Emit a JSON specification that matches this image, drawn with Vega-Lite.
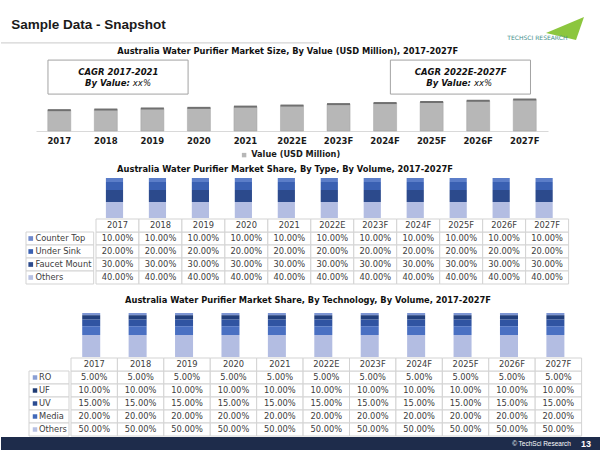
{
  "$schema": "https://vega.github.io/schema/vega-lite/v6.json",
  "padding": 0,
  "background": "white",
  "spacing": 0,
  "bounds": "full",
  "resolve": {"scale": {"x": "independent", "y": "independent", "color": "independent"}},
  "config": {
    "view": {"stroke": null},
    "font": "DejaVu Sans",
    "text": {"font": "DejaVu Sans"},
    "legend": {"padding": 0}
  },
  "datasets": {
    "value": [
      {"year": "2017", "value": 100}, {"year": "2018", "value": 103}, {"year": "2019", "value": 108},
      {"year": "2020", "value": 111}, {"year": "2021", "value": 117}, {"year": "2022E", "value": 122},
      {"year": "2023F", "value": 129}, {"year": "2024F", "value": 134}, {"year": "2025F", "value": 139},
      {"year": "2026F", "value": 145}, {"year": "2027F", "value": 151}
    ],
    "type": [
      {"year": "2017", "series": "Counter Top", "share": 0.1}, {"year": "2017", "series": "Under Sink", "share": 0.2}, {"year": "2017", "series": "Faucet Mount", "share": 0.3}, {"year": "2017", "series": "Others", "share": 0.4},
      {"year": "2018", "series": "Counter Top", "share": 0.1}, {"year": "2018", "series": "Under Sink", "share": 0.2}, {"year": "2018", "series": "Faucet Mount", "share": 0.3}, {"year": "2018", "series": "Others", "share": 0.4},
      {"year": "2019", "series": "Counter Top", "share": 0.1}, {"year": "2019", "series": "Under Sink", "share": 0.2}, {"year": "2019", "series": "Faucet Mount", "share": 0.3}, {"year": "2019", "series": "Others", "share": 0.4},
      {"year": "2020", "series": "Counter Top", "share": 0.1}, {"year": "2020", "series": "Under Sink", "share": 0.2}, {"year": "2020", "series": "Faucet Mount", "share": 0.3}, {"year": "2020", "series": "Others", "share": 0.4},
      {"year": "2021", "series": "Counter Top", "share": 0.1}, {"year": "2021", "series": "Under Sink", "share": 0.2}, {"year": "2021", "series": "Faucet Mount", "share": 0.3}, {"year": "2021", "series": "Others", "share": 0.4},
      {"year": "2022E", "series": "Counter Top", "share": 0.1}, {"year": "2022E", "series": "Under Sink", "share": 0.2}, {"year": "2022E", "series": "Faucet Mount", "share": 0.3}, {"year": "2022E", "series": "Others", "share": 0.4},
      {"year": "2023F", "series": "Counter Top", "share": 0.1}, {"year": "2023F", "series": "Under Sink", "share": 0.2}, {"year": "2023F", "series": "Faucet Mount", "share": 0.3}, {"year": "2023F", "series": "Others", "share": 0.4},
      {"year": "2024F", "series": "Counter Top", "share": 0.1}, {"year": "2024F", "series": "Under Sink", "share": 0.2}, {"year": "2024F", "series": "Faucet Mount", "share": 0.3}, {"year": "2024F", "series": "Others", "share": 0.4},
      {"year": "2025F", "series": "Counter Top", "share": 0.1}, {"year": "2025F", "series": "Under Sink", "share": 0.2}, {"year": "2025F", "series": "Faucet Mount", "share": 0.3}, {"year": "2025F", "series": "Others", "share": 0.4},
      {"year": "2026F", "series": "Counter Top", "share": 0.1}, {"year": "2026F", "series": "Under Sink", "share": 0.2}, {"year": "2026F", "series": "Faucet Mount", "share": 0.3}, {"year": "2026F", "series": "Others", "share": 0.4},
      {"year": "2027F", "series": "Counter Top", "share": 0.1}, {"year": "2027F", "series": "Under Sink", "share": 0.2}, {"year": "2027F", "series": "Faucet Mount", "share": 0.3}, {"year": "2027F", "series": "Others", "share": 0.4}
    ],
    "tech": [
      {"year": "2017", "series": "RO", "share": 0.05}, {"year": "2017", "series": "UF", "share": 0.1}, {"year": "2017", "series": "UV", "share": 0.15}, {"year": "2017", "series": "Media", "share": 0.2}, {"year": "2017", "series": "Others", "share": 0.5},
      {"year": "2018", "series": "RO", "share": 0.05}, {"year": "2018", "series": "UF", "share": 0.1}, {"year": "2018", "series": "UV", "share": 0.15}, {"year": "2018", "series": "Media", "share": 0.2}, {"year": "2018", "series": "Others", "share": 0.5},
      {"year": "2019", "series": "RO", "share": 0.05}, {"year": "2019", "series": "UF", "share": 0.1}, {"year": "2019", "series": "UV", "share": 0.15}, {"year": "2019", "series": "Media", "share": 0.2}, {"year": "2019", "series": "Others", "share": 0.5},
      {"year": "2020", "series": "RO", "share": 0.05}, {"year": "2020", "series": "UF", "share": 0.1}, {"year": "2020", "series": "UV", "share": 0.15}, {"year": "2020", "series": "Media", "share": 0.2}, {"year": "2020", "series": "Others", "share": 0.5},
      {"year": "2021", "series": "RO", "share": 0.05}, {"year": "2021", "series": "UF", "share": 0.1}, {"year": "2021", "series": "UV", "share": 0.15}, {"year": "2021", "series": "Media", "share": 0.2}, {"year": "2021", "series": "Others", "share": 0.5},
      {"year": "2022E", "series": "RO", "share": 0.05}, {"year": "2022E", "series": "UF", "share": 0.1}, {"year": "2022E", "series": "UV", "share": 0.15}, {"year": "2022E", "series": "Media", "share": 0.2}, {"year": "2022E", "series": "Others", "share": 0.5},
      {"year": "2023F", "series": "RO", "share": 0.05}, {"year": "2023F", "series": "UF", "share": 0.1}, {"year": "2023F", "series": "UV", "share": 0.15}, {"year": "2023F", "series": "Media", "share": 0.2}, {"year": "2023F", "series": "Others", "share": 0.5},
      {"year": "2024F", "series": "RO", "share": 0.05}, {"year": "2024F", "series": "UF", "share": 0.1}, {"year": "2024F", "series": "UV", "share": 0.15}, {"year": "2024F", "series": "Media", "share": 0.2}, {"year": "2024F", "series": "Others", "share": 0.5},
      {"year": "2025F", "series": "RO", "share": 0.05}, {"year": "2025F", "series": "UF", "share": 0.1}, {"year": "2025F", "series": "UV", "share": 0.15}, {"year": "2025F", "series": "Media", "share": 0.2}, {"year": "2025F", "series": "Others", "share": 0.5},
      {"year": "2026F", "series": "RO", "share": 0.05}, {"year": "2026F", "series": "UF", "share": 0.1}, {"year": "2026F", "series": "UV", "share": 0.15}, {"year": "2026F", "series": "Media", "share": 0.2}, {"year": "2026F", "series": "Others", "share": 0.5},
      {"year": "2027F", "series": "RO", "share": 0.05}, {"year": "2027F", "series": "UF", "share": 0.1}, {"year": "2027F", "series": "UV", "share": 0.15}, {"year": "2027F", "series": "Media", "share": 0.2}, {"year": "2027F", "series": "Others", "share": 0.5}
    ]
  },
  "vconcat": [
    {
      "width": 600, "height": 58,
      "data": {"values": [{}]},
      "layer": [
        {"mark": {"type": "text", "text": "Sample Data - Snapshot", "font": "Liberation Sans", "fontWeight": "bold", "fontSize": 13.5, "align": "left", "baseline": "middle", "color": "#1a1a1a"},
         "encoding": {"x": {"datum": 0.017, "type": "quantitative", "scale": {"domain": [0, 1], "nice": false, "zero": false}, "axis": null},
                      "y": {"datum": 0.57, "type": "quantitative", "scale": {"domain": [0, 1], "nice": false, "zero": false}, "axis": null}}},
        {"mark": {"type": "rule", "color": "#c9c9c9", "strokeWidth": 1},
         "encoding": {"x": {"datum": 0, "type": "quantitative"}, "x2": {"datum": 0.53}, "y": {"datum": 0.26, "type": "quantitative"}}},
        {"mark": {"type": "point", "shape": "M -1 0.24 L 1 -0.6 L 0.58 0.6 Z", "filled": true, "color": "#8cc63e", "size": 1444, "opacity": 1, "strokeWidth": 0},
         "encoding": {"x": {"datum": 0.94, "type": "quantitative"}, "y": {"datum": 0.509, "type": "quantitative"}}},
        {"mark": {"type": "text", "text": "TECHSCI RESEARCH", "fontSize": 6, "color": "#3f8f8c", "align": "center", "baseline": "middle"},
         "encoding": {"x": {"datum": 0.894, "type": "quantitative"}, "y": {"datum": 0.345, "type": "quantitative"}}},
        {"mark": {"type": "text", "text": "Australia Water Purifier Market Size, By Value (USD Million), 2017-2027F", "fontWeight": "bold", "fontSize": 8.3, "align": "center", "baseline": "middle", "color": "#111111"},
         "encoding": {"x": {"datum": 0.478, "type": "quantitative"}, "y": {"datum": 0.1, "type": "quantitative"}}}
      ]
    },
    {
      "hconcat": [
        {"width": 35, "height": 105, "data": {"values": []}, "mark": "point", "encoding": {}},
        {
          "width": 512, "height": 105,
          "data": {"name": "value"},
          "encoding": {"x": {"field": "year", "type": "ordinal", "scale": {"paddingInner": 0.505, "paddingOuter": 0.2525},
                             "axis": {"title": null, "labelAngle": 0, "ticks": false, "offset": -32, "domainColor": "#d9d9d9", "labelFont": "DejaVu Sans", "labelFontWeight": "bold", "labelFontSize": 8.5, "labelColor": "#1a1a1a", "labelPadding": 5}}},
          "layer": [
            {"mark": {"type": "bar", "stroke": "#a3a3a3", "strokeWidth": 0.5},
             "encoding": {"y": {"field": "value", "type": "quantitative", "scale": {"domain": [-153.4, 350], "nice": false, "zero": false}, "axis": null},
                          "color": {"datum": "Value (USD Million)", "type": "nominal", "scale": {"range": ["#b7b7b7"]},
                                    "legend": {"orient": "none", "legendX": 204, "legendY": 93, "title": null, "symbolType": "square", "symbolSize": 20, "symbolStrokeWidth": 0, "labelFont": "DejaVu Sans", "labelFontWeight": "bold", "labelFontSize": 8.2, "labelColor": "#1a1a1a", "labelOffset": 3}}}},
            {"mark": {"type": "tick", "color": "#707070", "thickness": 2, "size": 23, "opacity": 1},
             "encoding": {"y": {"field": "value", "type": "quantitative"}}},
            {"data": {"values": [{}]},
             "mark": {"type": "rect", "fill": "white", "stroke": "#a3a3a3", "strokeWidth": 1},
             "encoding": {"x": {"datum": "2017", "type": "ordinal", "bandPosition": 0.01}, "x2": {"datum": "2020", "bandPosition": 0.03},
                          "y": {"datum": 340, "type": "quantitative"}, "y2": {"datum": 177}}},
            {"data": {"values": [{}]},
             "mark": {"type": "rect", "fill": "white", "stroke": "#a3a3a3", "strokeWidth": 1},
             "encoding": {"x": {"datum": "2024F", "type": "ordinal", "bandPosition": 0.73}, "x2": {"datum": "2027F", "bandPosition": 0.75},
                          "y": {"datum": 340, "type": "quantitative"}, "y2": {"datum": 177}}},
            {"data": {"values": [{}]},
             "mark": {"type": "text", "text": "CAGR 2017-2021", "fontWeight": "bold", "fontStyle": "italic", "fontSize": 8.5, "align": "center", "baseline": "middle", "color": "#111111", "dx": 1},
             "encoding": {"x": {"datum": "2018", "type": "ordinal", "bandPosition": 1}, "y": {"datum": 283, "type": "quantitative"}}},
            {"data": {"values": [{}]},
             "mark": {"type": "text", "text": "By Value:", "fontWeight": "bold", "fontStyle": "italic", "fontSize": 8.5, "align": "right", "baseline": "middle", "color": "#111111", "dx": -11},
             "encoding": {"x": {"datum": "2019", "type": "ordinal", "bandPosition": 0}, "y": {"datum": 230, "type": "quantitative"}}},
            {"data": {"values": [{}]},
             "mark": {"type": "text", "text": "xx%", "fontStyle": "italic", "fontSize": 8.5, "align": "left", "baseline": "middle", "dx": -8, "color": "#111111"},
             "encoding": {"x": {"datum": "2019", "type": "ordinal", "bandPosition": 0}, "y": {"datum": 230, "type": "quantitative"}}},
            {"data": {"values": [{}]},
             "mark": {"type": "text", "text": "CAGR 2022E-2027F", "fontWeight": "bold", "fontStyle": "italic", "fontSize": 8.5, "align": "center", "baseline": "middle", "color": "#111111", "dx": -6},
             "encoding": {"x": {"datum": "2026F", "type": "ordinal", "bandPosition": 0}, "y": {"datum": 283, "type": "quantitative"}}},
            {"data": {"values": [{}]},
             "mark": {"type": "text", "text": "By Value:", "fontWeight": "bold", "fontStyle": "italic", "fontSize": 8.5, "align": "right", "baseline": "middle", "color": "#111111", "dx": -1.5},
             "encoding": {"x": {"datum": "2026F", "type": "ordinal", "bandPosition": 0.25}, "y": {"datum": 230, "type": "quantitative"}}},
            {"data": {"values": [{}]},
             "mark": {"type": "text", "text": "xx%", "fontStyle": "italic", "fontSize": 8.5, "align": "left", "baseline": "middle", "dx": 1.5, "color": "#111111"},
             "encoding": {"x": {"datum": "2026F", "type": "ordinal", "bandPosition": 0.25}, "y": {"datum": 230, "type": "quantitative"}}}
          ]
        }
      ],
      "spacing": 0,
      "resolve": {"scale": {"x": "independent", "y": "independent", "color": "independent"}}
    },
    {
      "width": 600, "height": 15,
      "data": {"values": [{}]},
      "mark": {"type": "text", "text": "Australia Water Purifier Market Share, By Type, By Volume, 2017-2027F", "fontWeight": "bold", "fontSize": 8.3, "align": "center", "baseline": "middle", "color": "#111111"},
      "encoding": {"x": {"datum": 0.4733, "type": "quantitative", "scale": {"domain": [0, 1], "nice": false, "zero": false}, "axis": null},
                   "y": {"datum": 0.533, "type": "quantitative", "scale": {"domain": [0, 1], "nice": false, "zero": false}, "axis": null}}
    },
    {
      "hconcat": [
        {"width": 92, "height": 40, "data": {"values": []}, "mark": "point", "encoding": {}},
        {
          "width": 472.6, "height": 40,
          "data": {"name": "type"},
          "mark": {"type": "bar"},
          "encoding": {
            "x": {"field": "year", "type": "ordinal", "scale": {"paddingInner": 0.6, "paddingOuter": 0.3}, "axis": null},
            "y": {"field": "share", "type": "quantitative", "stack": "zero", "scale": {"domain": [0, 1], "nice": false}, "axis": null},
            "order": {"field": "share", "sort": "descending"},
            "color": {"field": "series", "type": "nominal",
                      "scale": {"domain": ["Others", "Faucet Mount", "Under Sink", "Counter Top"], "range": ["#b3bde2", "#2c4a8c", "#3a60b2", "#5b7dc8"]}, "legend": null}
          }
        }
      ],
      "spacing": 0,
      "resolve": {"scale": {"x": "independent", "y": "independent", "color": "independent"}}
    },
    {
      "hconcat": [
        {"width": 24, "height": 65, "data": {"values": []}, "mark": "point", "encoding": {}},
        {
          "width": 67.7, "height": 65,
          "data": {"name": "type"},
          "transform": [{"aggregate": [{"op": "count", "as": "n"}], "groupby": ["series"]}],
          "encoding": {"y": {"field": "series", "type": "nominal", "scale": {"domain": ["Year", "Counter Top", "Under Sink", "Faucet Mount", "Others"], "paddingInner": 0, "paddingOuter": 0}, "axis": null}},
          "layer": [
            {"mark": {"type": "rect", "fill": "white", "stroke": "#d3d3d3", "strokeWidth": 1},
             "encoding": {"x": {"datum": 0, "type": "quantitative", "scale": {"domain": [0, 1], "nice": false, "zero": false}, "axis": null}, "x2": {"datum": 1}}},
            {"mark": {"type": "point", "shape": "square", "filled": true, "size": 22, "opacity": 1},
             "encoding": {"x": {"datum": 0.07, "type": "quantitative"},
                          "color": {"field": "series", "type": "nominal", "scale": {"domain": ["Counter Top", "Under Sink", "Faucet Mount", "Others"], "range": ["#6f89cd", "#3a60b2", "#2c4a8c", "#b7c1e3"]}, "legend": null}}},
            {"mark": {"type": "text", "align": "left", "baseline": "middle", "fontSize": 8.3, "color": "#404040"},
             "encoding": {"x": {"datum": 0.14, "type": "quantitative"}, "text": {"field": "series"}}}
          ]
        },
        {
          "width": 472.6, "height": 65,
          "data": {"name": "type"},
          "encoding": {"x": {"field": "year", "type": "ordinal", "scale": {"paddingInner": 0, "paddingOuter": 0}, "axis": null}},
          "layer": [
            {"mark": {"type": "rect", "fill": "white", "stroke": "#d3d3d3", "strokeWidth": 1},
             "encoding": {"y": {"field": "series", "type": "nominal", "scale": {"domain": ["Year", "Counter Top", "Under Sink", "Faucet Mount", "Others"], "paddingInner": 0, "paddingOuter": 0}, "axis": null}}},
            {"mark": {"type": "text", "fontSize": 8.3, "color": "#404040", "baseline": "middle"},
             "encoding": {"y": {"field": "series", "type": "nominal"}, "text": {"field": "share", "type": "quantitative", "format": ".2%"}}},
            {"transform": [{"aggregate": [{"op": "count", "as": "n"}], "groupby": ["year"]}],
             "layer": [
               {"mark": {"type": "rect", "fill": "white", "stroke": "#d3d3d3", "strokeWidth": 1},
                "encoding": {"y": {"datum": "Year", "type": "nominal"}}},
               {"mark": {"type": "text", "fontSize": 8.3, "color": "#404040", "baseline": "middle"},
                "encoding": {"y": {"datum": "Year", "type": "nominal"}, "text": {"field": "year"}}}
             ]}
          ]
        }
      ],
      "spacing": 0,
      "resolve": {"scale": {"x": "independent", "y": "independent", "color": "independent"}}
    },
    {
      "width": 600, "height": 28,
      "data": {"values": [{}]},
      "mark": {"type": "text", "text": "Australia Water Purifier Market Share, By Technology, By Volume, 2017-2027F", "fontWeight": "bold", "fontSize": 8.3, "align": "center", "baseline": "middle", "color": "#111111"},
      "encoding": {"x": {"datum": 0.5117, "type": "quantitative", "scale": {"domain": [0, 1], "nice": false, "zero": false}, "axis": null},
                   "y": {"datum": 0.44, "type": "quantitative", "scale": {"domain": [0, 1], "nice": false, "zero": false}, "axis": null}}
    },
    {
      "hconcat": [
        {"width": 66.7, "height": 44, "data": {"values": []}, "mark": "point", "encoding": {}},
        {
          "width": 510.6, "height": 44,
          "data": {"name": "tech"},
          "mark": {"type": "bar"},
          "encoding": {
            "x": {"field": "year", "type": "ordinal", "scale": {"paddingInner": 0.612, "paddingOuter": 0.306}, "axis": null},
            "y": {"field": "share", "type": "quantitative", "stack": "zero", "scale": {"domain": [0, 1], "nice": false}, "axis": null},
            "order": {"field": "share", "sort": "descending"},
            "color": {"field": "series", "type": "nominal",
                      "scale": {"domain": ["Others", "Media", "UV", "UF", "RO"], "range": ["#b3bde2", "#4a70c2", "#3054a2", "#223f7c", "#7d95d3"]}, "legend": null}
          }
        }
      ],
      "spacing": 0,
      "resolve": {"scale": {"x": "independent", "y": "independent", "color": "independent"}}
    },
    {
      "hconcat": [
        {"width": 26.7, "height": 78, "data": {"values": []}, "mark": "point", "encoding": {}},
        {
          "width": 40, "height": 78,
          "data": {"name": "tech"},
          "transform": [{"aggregate": [{"op": "count", "as": "n"}], "groupby": ["series"]}],
          "encoding": {"y": {"field": "series", "type": "nominal", "scale": {"domain": ["Year", "RO", "UF", "UV", "Media", "Others"], "paddingInner": 0, "paddingOuter": 0}, "axis": null}},
          "layer": [
            {"mark": {"type": "rect", "fill": "white", "stroke": "#d3d3d3", "strokeWidth": 1},
             "encoding": {"x": {"datum": 0, "type": "quantitative", "scale": {"domain": [0, 1], "nice": false, "zero": false}, "axis": null}, "x2": {"datum": 1}}},
            {"mark": {"type": "point", "shape": "square", "filled": true, "size": 20, "opacity": 1},
             "encoding": {"x": {"datum": 0.15, "type": "quantitative"},
                          "color": {"field": "series", "type": "nominal", "scale": {"domain": ["RO", "UF", "UV", "Media", "Others"], "range": ["#8a9fd4", "#203c74", "#2b4b91", "#4169b9", "#b7c1e3"]}, "legend": null}}},
            {"mark": {"type": "text", "align": "left", "baseline": "middle", "fontSize": 8.3, "color": "#404040"},
             "encoding": {"x": {"datum": 0.25, "type": "quantitative"}, "text": {"field": "series"}}}
          ]
        },
        {
          "width": 510.6, "height": 78,
          "data": {"name": "tech"},
          "encoding": {"x": {"field": "year", "type": "ordinal", "scale": {"paddingInner": 0, "paddingOuter": 0}, "axis": null}},
          "layer": [
            {"mark": {"type": "rect", "fill": "white", "stroke": "#d3d3d3", "strokeWidth": 1},
             "encoding": {"y": {"field": "series", "type": "nominal", "scale": {"domain": ["Year", "RO", "UF", "UV", "Media", "Others"], "paddingInner": 0, "paddingOuter": 0}, "axis": null}}},
            {"mark": {"type": "text", "fontSize": 8.3, "color": "#404040", "baseline": "middle"},
             "encoding": {"y": {"field": "series", "type": "nominal"}, "text": {"field": "share", "type": "quantitative", "format": ".2%"}}},
            {"transform": [{"aggregate": [{"op": "count", "as": "n"}], "groupby": ["year"]}],
             "layer": [
               {"mark": {"type": "rect", "fill": "white", "stroke": "#d3d3d3", "strokeWidth": 1},
                "encoding": {"y": {"datum": "Year", "type": "nominal"}}},
               {"mark": {"type": "text", "fontSize": 8.3, "color": "#404040", "baseline": "middle"},
                "encoding": {"y": {"datum": "Year", "type": "nominal"}, "text": {"field": "year"}}}
             ]}
          ]
        }
      ],
      "spacing": 0,
      "resolve": {"scale": {"x": "independent", "y": "independent", "color": "independent"}}
    },
    {
      "width": 600, "height": 13,
      "view": {"fill": "#1e2c4b", "stroke": null},
      "data": {"values": [{}]},
      "layer": [
        {"mark": {"type": "text", "text": "© TechSci Research", "align": "right", "baseline": "middle", "fontSize": 6.5, "color": "#ffffff", "font": "Liberation Sans"},
         "encoding": {"x": {"datum": 0.95, "type": "quantitative", "scale": {"domain": [0, 1], "nice": false, "zero": false}, "axis": null}}},
        {"mark": {"type": "text", "text": "13", "align": "left", "baseline": "middle", "fontSize": 9, "fontWeight": "bold", "color": "#ffffff", "font": "Liberation Sans"},
         "encoding": {"x": {"datum": 0.9667, "type": "quantitative"}}}
      ]
    }
  ]
}
